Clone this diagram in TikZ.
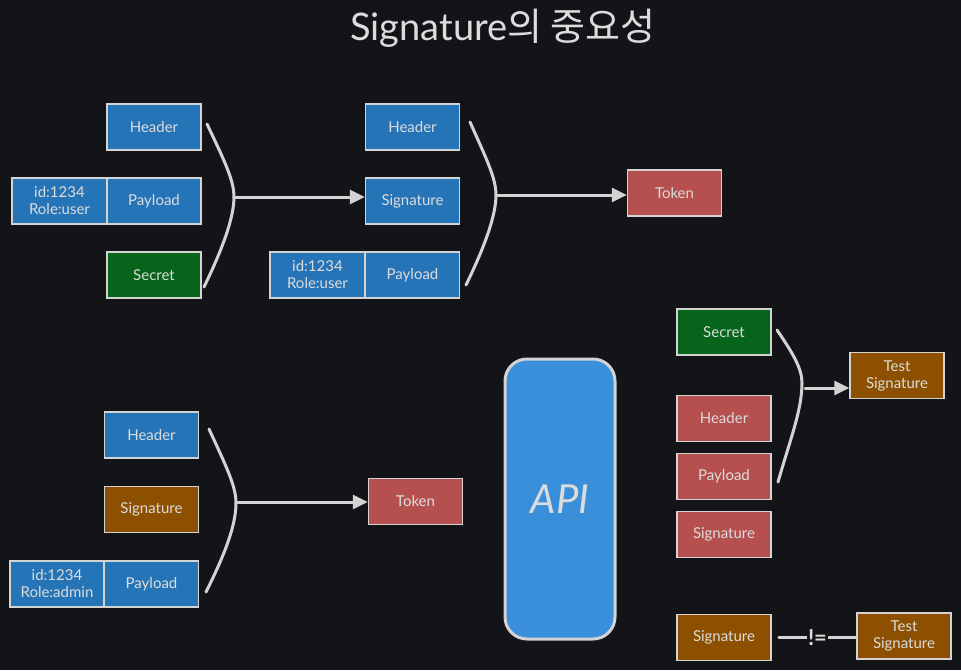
\documentclass[tikz,border=0pt]{standalone}
\usepackage{fontspec}
\setmainfont{Lato}
\newfontfamily\krfont{Noto Sans CJK KR}
\usetikzlibrary{arrows.meta}

\definecolor{bg}{HTML}{121417}
\definecolor{edge}{HTML}{D3D3D3}
\definecolor{ink}{HTML}{DCDCDC}
\definecolor{boxblue}{HTML}{2674B8}
\definecolor{boxgreen}{HTML}{06651A}
\definecolor{boxred}{HTML}{B5504F}
\definecolor{boxorange}{HTML}{8C5000}
\definecolor{apiblue}{HTML}{3A8FDB}

\begin{document}
\begin{tikzpicture}
[x=1pt,y=-1pt,>={Triangle[length=15pt,width=14pt]},
box/.style={draw=edge,line width=1.5pt,minimum width=94pt,minimum height=46pt,inner sep=0pt,text=ink,align=center,font=\fontsize{15}{17}\selectfont},
bluebox/.style={box,fill=boxblue},
greenbox/.style={box,fill=boxgreen},
redbox/.style={box,fill=boxred},
orangebox/.style={box,fill=boxorange},
link/.style={draw=edge,line width=3pt,line cap=round},
]

%Background
\fill[bg] (0,0) rectangle (961,670);
\useasboundingbox (0,0) rectangle (961,670);

%Title
\node (title) at (503,28)[text=ink,font=\fontsize{38}{44}\selectfont] {Signature{\krfont 의 중요성}};

%Signing: Header + Payload + Secret
\node (H1) at (154,127)[bluebox] {Header};
\node (P1) at (154,201)[bluebox] {Payload};
\node (I1) at (59.5,201)[bluebox,minimum width=95pt] {id:1234\\Role:user};
\node (S1) at (154,275)[greenbox] {Secret};
\draw[link] (207,124) .. controls (224,160) and (234,180) .. (234,197) .. controls (234,218) and (222,250) .. (204,287);
\coordinate (j1) at (234,197);

%Token parts
\node (H2) at (412.5,127)[bluebox] {Header};
\node (G2) at (412.5,201)[bluebox] {Signature};
\node (P2) at (412.5,275)[bluebox] {Payload};
\node (I2) at (317.5,275)[bluebox,minimum width=95pt] {id:1234\\Role:user};
\draw[link] (470,122) .. controls (486,158) and (496,178) .. (496,195) .. controls (496,216) and (484,248) .. (466,285);
\coordinate (j2) at (496,195);
\node (T1) at (674.5,193)[redbox] {Token};

\draw[link,->] (j1) -- (j1 -| G2.west);
\draw[link,->] (j2) -- (j2 -| T1.west);

%Forged token
\node (H3) at (151.5,435)[bluebox] {Header};
\node (G3) at (151.5,509.5)[orangebox] {Signature};
\node (P3) at (151.5,584)[bluebox] {Payload};
\node (I3) at (57,584)[bluebox] {id:1234\\Role:admin};
\draw[link] (209,429) .. controls (226,466) and (236,486) .. (236,503) .. controls (236,526) and (224,556) .. (206,592);
\coordinate (j3) at (236,502);
\node (T2) at (415.5,501.5)[redbox] {Token};
\draw[link,->] (j3) -- (j3 -| T2.west);

%API
\node (api) at (560,499)[draw=edge,line width=3pt,fill=apiblue,rounded corners=22pt,minimum width=110pt,minimum height=280pt,text=ink,font=\fontsize{40}{46}\selectfont\itshape] {API};

%Verification
\node (S4) at (724,332)[greenbox] {Secret};
\node (H4) at (724,418.5)[redbox] {Header};
\node (P4) at (724,476.5)[redbox] {Payload};
\node (G4) at (724,534.5)[redbox] {Signature};
\draw[link] (777,330) .. controls (792,352) and (802,368) .. (802,383) .. controls (802,410) and (790,440) .. (778,482);
\coordinate (j4) at (805,388);
\node (TS1) at (897,375.5)[orangebox] {Test\\Signature};
\draw[link,->] (j4) -- (j4 -| TS1.west);

%Comparison
\node (G5) at (724,637.5)[orangebox] {Signature};
\node (TS2) at (904,636)[orangebox] {Test\\Signature};
\draw[link] ([xshift=7pt]G5.east) -- node[fill=bg,text=ink,inner sep=1pt,font=\fontsize{22}{26}\selectfont\bfseries] {!=} (TS2.west |- G5.east);

\end{tikzpicture}
\end{document}
